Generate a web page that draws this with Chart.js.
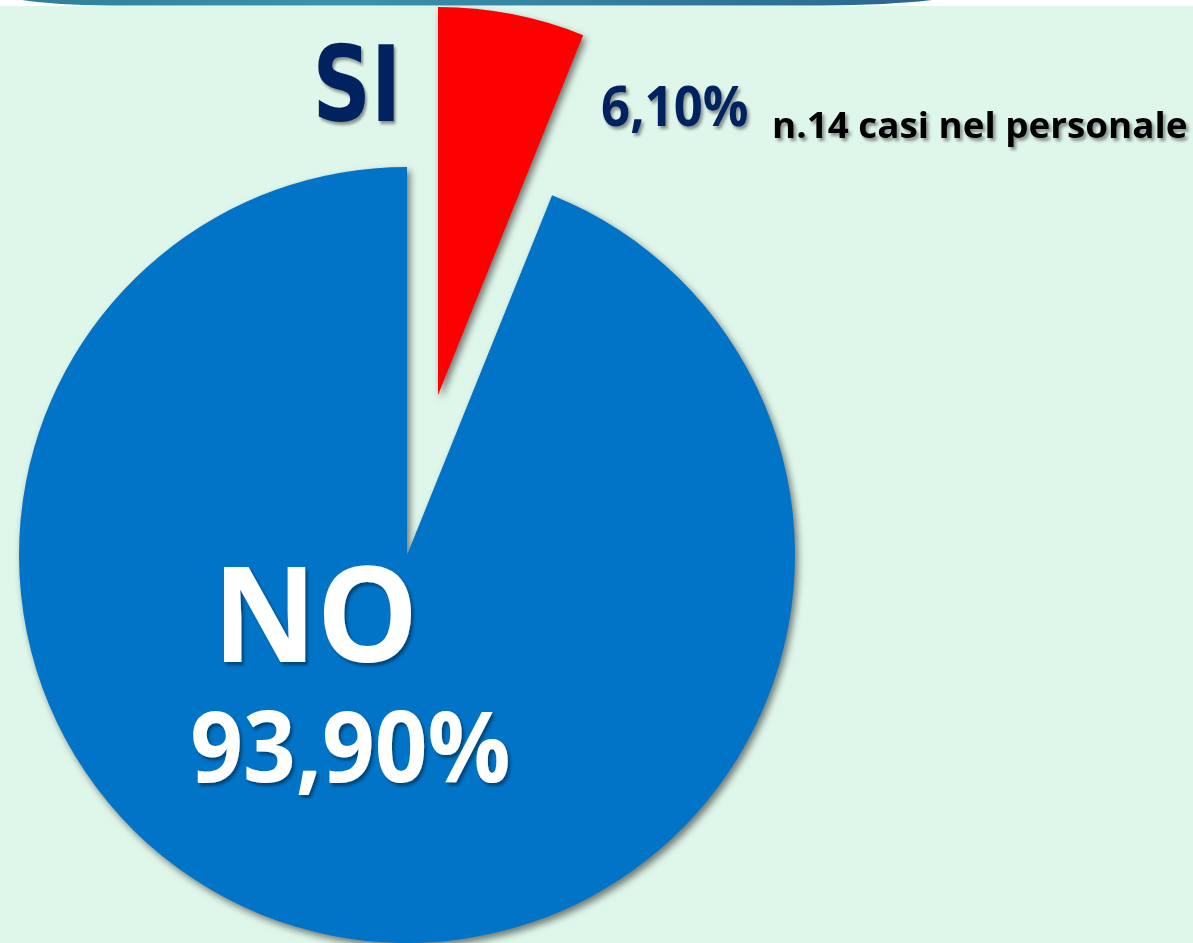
<!DOCTYPE html>
<html>
<head>
<meta charset="utf-8">
<script src="https://cdn.jsdelivr.net/npm/chart.js@4/dist/chart.umd.min.js"></script>
<style>
  html, body { margin: 0; padding: 0; overflow: hidden; background: #dff6ea; }
  #stage { position: relative; width: 1193px; height: 943px; background: #dff6ea; }
  #topstrip { position: absolute; left: 0; top: 0; width: 1193px; height: 6px; background: #ffffff; }
  canvas { position: absolute; left: 0; top: 0; }
  #labels { position: absolute; left: 0; top: 0; }
</style>
</head>
<body>
<div id="stage">
  <div id="topstrip"></div>
  <svg id="band" width="1193" height="8" style="position:absolute;left:0;top:0">
    <defs>
      <linearGradient id="bandGrad" x1="0" y1="0" x2="1" y2="0">
        <stop offset="0" stop-color="#2f7f9c"/>
        <stop offset="0.35" stop-color="#3a93ab"/>
        <stop offset="1" stop-color="#2a6592"/>
      </linearGradient>
    </defs>
    <path d="M22,0 L932,0 Q890,5 820,5.5 L110,5.5 Q55,5 22,0 Z" fill="url(#bandGrad)"/>
  </svg>
  <canvas id="pieMain" width="1193" height="943"></canvas>
  <canvas id="pieExploded" width="1193" height="943"></canvas>
  <svg id="labels" width="1193" height="943">
    <defs>
      <filter id="sh" x="-10%" y="-10%" width="130%" height="140%">
        <feDropShadow dx="2.5" dy="3" stdDeviation="1.6" flood-color="#000" flood-opacity="0.4"/>
      </filter>
    </defs>
    <g id="textLayer"></g>
  </svg>
</div>
<script>
// ---- data ----
const categories = ['SI', 'NO'];
const percentValues = [6.1, 93.9];
const percentLabels = ['6,10%', '93,90%'];
const noteText = 'n.14 casi nel personale';

// ---- styles ----
const sliceColors = ['#ff0000', '#0274c8'];
const transparent = 'rgba(0,0,0,0)';

const shadowPlugin = {
  id: 'pieShadow',
  beforeDatasetsDraw(chart) {
    const ctx = chart.ctx;
    ctx.save();
    ctx.shadowColor = 'rgba(0,0,0,0.5)';
    ctx.shadowBlur = 7;
    ctx.shadowOffsetX = 3;
    ctx.shadowOffsetY = 4;
  },
  afterDatasetsDraw(chart) {
    chart.ctx.restore();
  }
};

function makePie(canvasId, colors, padding) {
  return new Chart(document.getElementById(canvasId), {
    type: 'pie',
    data: {
      labels: categories,
      datasets: [{
        data: percentValues,
        backgroundColor: colors,
        borderWidth: 0,
        clip: false
      }]
    },
    options: {
      responsive: false,
      animation: false,
      events: [],
      radius: 388,
      layout: { padding: padding },
      plugins: { legend: { display: false }, tooltip: { enabled: false } }
    },
    plugins: [shadowPlugin]
  });
}

// main pie: "NO" slice (centre 407,555)
makePie('pieMain', [transparent, sliceColors[1]], { top: 167, right: 379, left: 0, bottom: 0 });
// exploded pie: "SI" slice pulled out (centre 438,395)
makePie('pieExploded', [sliceColors[0], transparent], { top: 0, right: 317, left: 0, bottom: 153 });

// ---- labels (real SVG text fitted into measured boxes) ----
const measureCtx = document.createElement('canvas').getContext('2d');
const NS = 'http://www.w3.org/2000/svg';
function addLabel(text, family, weight, color, box) {
  measureCtx.font = weight + ' 100px ' + family;
  const m = measureCtx.measureText(text);
  const asc = m.actualBoundingBoxAscent;
  const size = 100 * (box.baseline - box.top) / asc;
  measureCtx.font = weight + ' ' + size + 'px ' + family;
  const m2 = measureCtx.measureText(text);
  const glyphW = m2.actualBoundingBoxLeft + m2.actualBoundingBoxRight;
  const sx = (box.right - box.left) / glyphW;
  const tx = box.left + m2.actualBoundingBoxLeft * sx;
  const t = document.createElementNS(NS, 'text');
  t.setAttribute('transform', 'translate(' + tx + ',' + box.baseline + ') scale(' + sx + ',1)');
  t.setAttribute('x', 0);
  t.setAttribute('y', 0);
  t.setAttribute('font-family', family);
  t.setAttribute('font-weight', weight);
  t.setAttribute('font-size', size);
  t.setAttribute('fill', color);
  t.setAttribute('filter', 'url(#sh)');
  t.textContent = text;
  document.getElementById('textLayer').appendChild(t);
}

const navy = '#06215f';
addLabel(categories[0], '"DejaVu Sans"', 'bold', navy, { left: 318, right: 394, top: 42, baseline: 121 });
addLabel(percentLabels[0], '"Open Sans"', 'bold', navy, { left: 602, right: 747, top: 85, baseline: 126 });
addLabel(noteText, '"Open Sans"', 'bold', '#000000', { left: 774, right: 1186, top: 110, baseline: 138 });
addLabel(categories[1], '"Open Sans"', 'bold', '#ffffff', { left: 223, right: 412, top: 565, baseline: 662 });
addLabel(percentLabels[1], '"Open Sans"', 'bold', '#ffffff', { left: 193, right: 508, top: 710, baseline: 782 });
</script>
</body>
</html>
